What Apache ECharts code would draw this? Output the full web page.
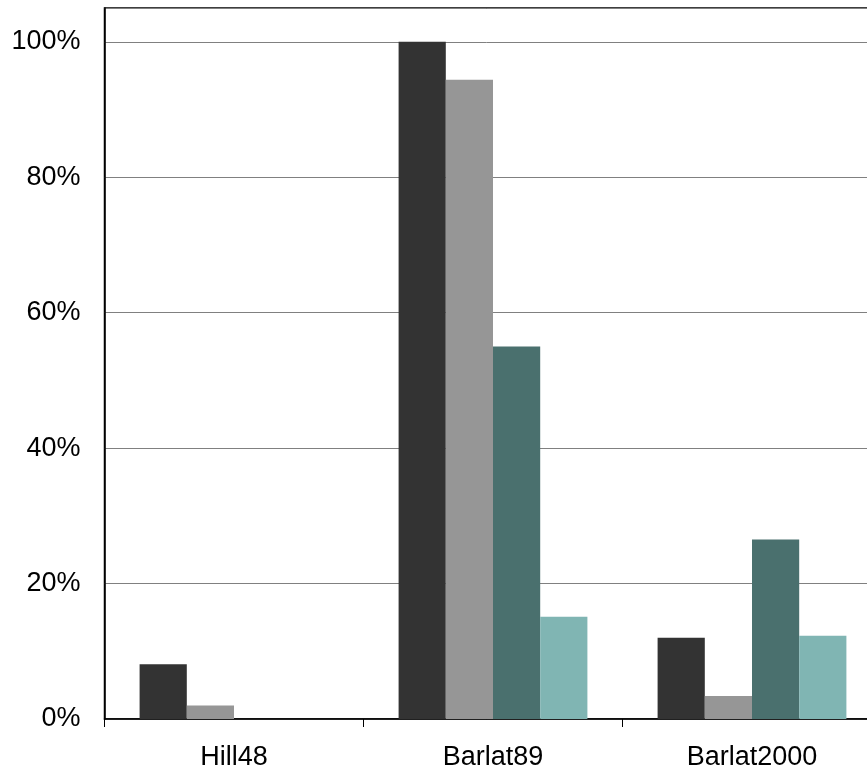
<!DOCTYPE html>
<html>
<head>
<meta charset="utf-8">
<script src="https://cdn.jsdelivr.net/npm/echarts@6/dist/echarts.min.js"></script>
<style>html,body{margin:0;padding:0;background:#fff}#c{width:867px;height:771px}</style>
</head>
<body>
<div id="c"></div>
<script>
const categories = ['Hill48', 'Barlat89', 'Barlat2000'];
const series1 = [8.1, 100, 12.0];
const series2 = [2.0, 94.4, 3.4];
const series3 = [0, 55.0, 26.5];
const series4 = [0, 15.1, 12.3];
const yTicks = [0, 20, 40, 60, 80, 100];

const colors = ['#333333', '#969696', '#4a706e', '#80b5b3'];
const chart = echarts.init(document.getElementById('c'), null, {renderer: 'canvas'});
const font = 'Liberation Sans, Arial, sans-serif';
const mk = (name, data, i) => ({
  name, type: 'bar', data, barWidth: 47.2, barGap: '0%',
  itemStyle: {color: colors[i]}, silent: true
});
chart.setOption({
  animation: false,
  backgroundColor: '#fff',
  grid: {left: 104.5, width: 777, top: 8, height: 711, containLabel: false, outerBoundsMode: 'none',
    show: true, borderColor: '#000', borderWidth: 1.5, backgroundColor: 'transparent'},
  xAxis: {
    type: 'category', data: categories,
    axisLine: {lineStyle: {color: '#000', width: 1.5}},
    axisTick: {show: true, length: 8, lineStyle: {color: '#000'}},
    axisLabel: {fontFamily: font, fontSize: 27, color: '#000', margin: 25}
  },
  yAxis: {
    type: 'value', min: 0, max: 105, interval: 20,
    axisLine: {show: true, lineStyle: {color: '#000', width: 1.5}},
    axisTick: {show: false},
    splitLine: {lineStyle: {color: '#808080', width: 1}},
    axisLabel: {fontFamily: font, fontSize: 27, color: '#000', margin: 24,
      formatter: v => yTicks.includes(v) ? v + '%' : ''}
  },
  series: [mk('s1', series1, 0), mk('s2', series2, 1), mk('s3', series3, 2), mk('s4', series4, 3)]
});
</script>
</body>
</html>
